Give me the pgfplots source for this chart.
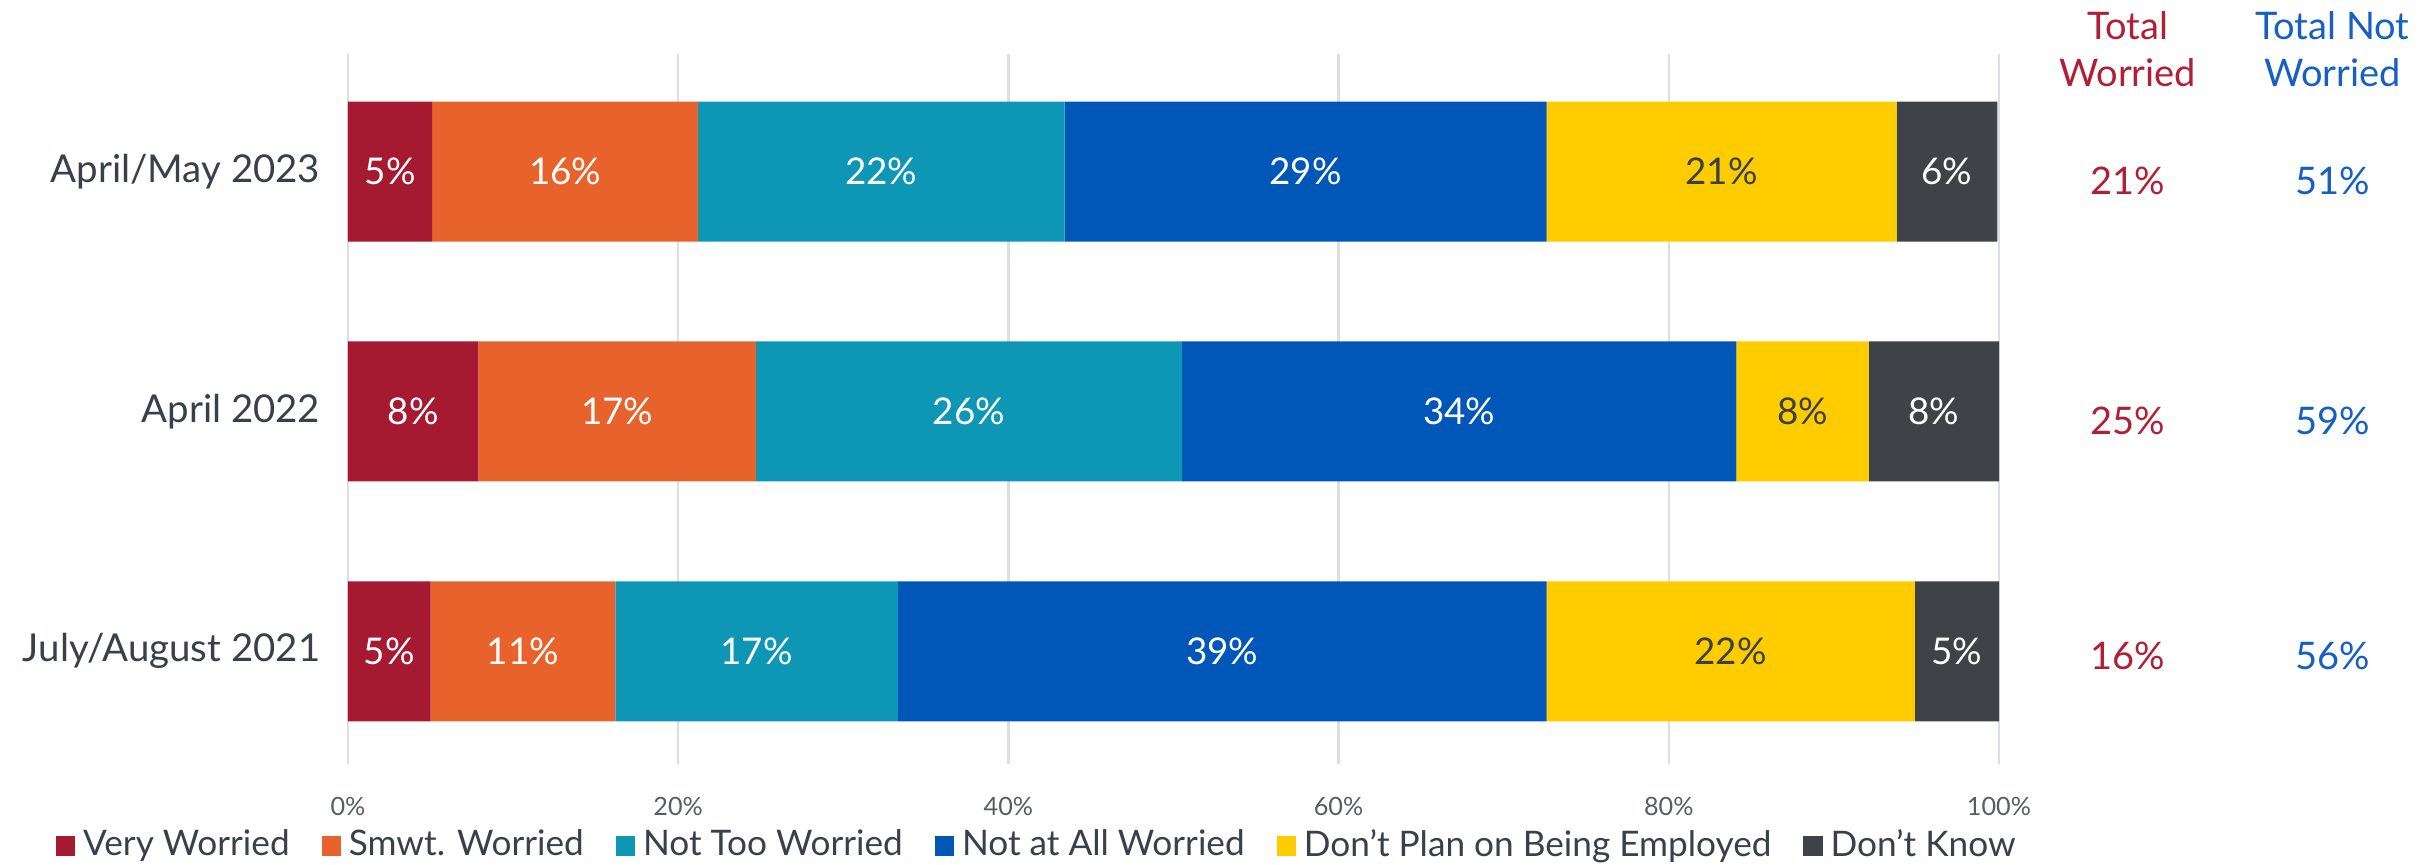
\documentclass[border=0pt]{standalone}
\usepackage{fontspec}
\setmainfont{Lato}
\usepackage{pgfplots}
\pgfplotsset{compat=1.18}
\usepackage{pgfplotstable}

\definecolor{cVW}{HTML}{A51931}
\definecolor{cSW}{HTML}{E8632B}
\definecolor{cNTW}{HTML}{0E97B5}
\definecolor{cNAW}{HTML}{0057B8}
\definecolor{cDPE}{HTML}{FFCC00}
\definecolor{cDK}{HTML}{3F4347}
\definecolor{txt}{HTML}{3A3F4C}
\definecolor{gridc}{HTML}{DCDEE6}
\definecolor{totR}{HTML}{B01F35}
\definecolor{totB}{HTML}{1560C2}

% y: 0 = July/August 2021, 1 = April 2022, 2 = April/May 2023
\pgfplotstableread{
y vw sw ntw naw dpe dk
0 5.0 11.2 17.1 39.3 22.3 5.1
1 7.9 16.8 25.8 33.6 8.0 7.9
2 5.1 16.1 22.2 29.2 21.2 6.1
}\data

\pgfplotsset{
  seg/.style n args={3}{
    fill=#1, draw=none,
    point meta=\thisrow{#2},
    nodes near coords={\pgfmathprintnumber[fixed,precision=0]{\pgfplotspointmeta}\%},
    every node near coord/.append style={anchor=center, text=#3,
      font=\fontsize{9.2}{10}\selectfont},
  },
}

\begin{document}
\begin{tikzpicture}[x=1pt,y=1pt]
\path[use as bounding box] (0,0) rectangle (608.75,216.25);
\begin{axis}[
  at={(87pt,25.25pt)}, anchor=south west,
  scale only axis, width=412.75pt, height=177.5pt,
  /pgf/number format/assume math mode=true,
  xbar stacked, bar width=35pt,
  xmin=0, xmax=100, ymin=-0.47, ymax=2.49,
  xtick={0,20,...,100},
  xticklabel={\pgfmathprintnumber{\tick}\%},
  ytick={0,1,2},
  yticklabels={July/August 2021, April 2022, April/May 2023},
  axis line style={draw=none},
  major tick length=0pt,
  xmajorgrids, grid style={gridc, line width=0.6pt},
  xticklabel style={anchor=center, yshift=-10.5pt, text=txt!85,
    font=\fontsize{6.3}{7}\selectfont},
  yticklabel style={anchor=east, inner sep=0pt, xshift=-6.75pt, text=txt,
    font=\fontsize{9.6}{11}\selectfont},
  clip=false,
  legend style={at={(0.419,-0.1155)}, anchor=center, draw=none, fill=none,
    font=\fontsize{8.8}{9}\selectfont, text=txt,
    /tikz/every even column/.append style={column sep=6pt},
    inner sep=0pt, outer sep=0pt},
  legend columns=6,
  legend cell align=left,
  legend image code/.code={\fill[#1,/tikz/.cd] (0pt,-2.4pt) rectangle (4.8pt,2.4pt);},
]
\addplot[seg={cVW}{vw}{white}]   table[x=vw,  y=y]{\data};
\addplot[seg={cSW}{sw}{white}]   table[x=sw,  y=y]{\data};
\addplot[seg={cNTW}{ntw}{white}] table[x=ntw, y=y]{\data};
\addplot[seg={cNAW}{naw}{white}] table[x=naw, y=y]{\data};
\addplot[seg={cDPE}{dpe}{txt}]   table[x=dpe, y=y]{\data};
\addplot[seg={cDK}{dk}{white}]   table[x=dk,  y=y]{\data};
\legend{Very Worried, Smwt. Worried, Not Too Worried, Not at All Worried, Don't Plan on Being Employed, Don't Know}

\node[align=center, text=totR, font=\fontsize{9.5}{11.75}\selectfont] at (axis cs:107.8,2.51) {Total\\Worried};
\node[align=center, text=totB, font=\fontsize{9.5}{11.75}\selectfont] at (axis cs:120.2,2.51) {Total Not\\Worried};
\node[text=totR, font=\fontsize{9.5}{11}\selectfont] at (axis cs:107.8,1.96) {21\%};
\node[text=totR, font=\fontsize{9.5}{11}\selectfont] at (axis cs:107.8,0.96) {25\%};
\node[text=totR, font=\fontsize{9.5}{11}\selectfont] at (axis cs:107.8,-0.02) {16\%};
\node[text=totB, font=\fontsize{9.5}{11}\selectfont] at (axis cs:120.2,1.96) {51\%};
\node[text=totB, font=\fontsize{9.5}{11}\selectfont] at (axis cs:120.2,0.96) {59\%};
\node[text=totB, font=\fontsize{9.5}{11}\selectfont] at (axis cs:120.2,-0.02) {56\%};
\end{axis}
\end{tikzpicture}
\end{document}
